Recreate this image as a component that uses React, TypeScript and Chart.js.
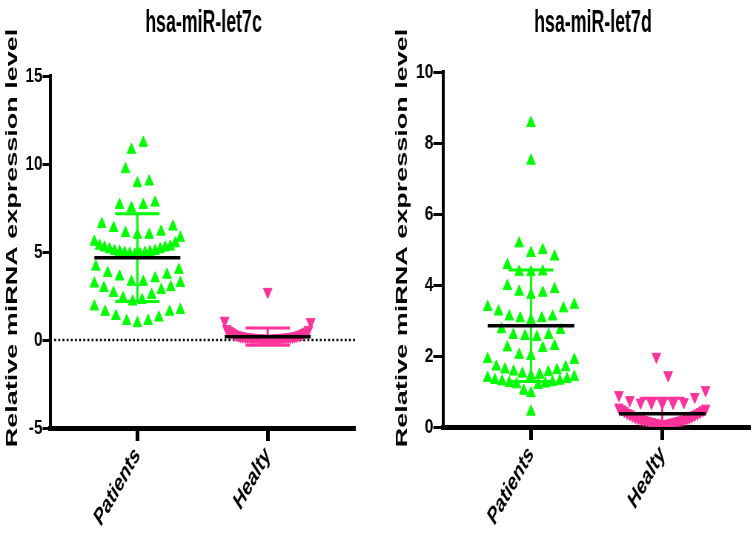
import React, { useEffect, useRef } from 'react';
import { Chart, registerables } from 'chart.js';

Chart.register(...registerables);

// ---------- data ----------
const CATEGORIES = ['Patients', 'Healty'];
const Y_TITLE = 'Relative miRNA expression level';

const LET7C_TITLE = 'hsa-miR-let7c';
const LET7C_PATIENTS = [
  11.2, 10.8, 9.7, 9.0, 8.9, 7.8, 7.67, 7.5, 7.67,
  6.44, 5.97, 6.15, 6.08, 5.97, 6.36, 6.59, 5.8,
  5.49, 5.3, 5.58, 5.35,
  5.25, 5.15, 5.05, 5.0, 4.95, 4.9, 4.85, 4.9, 4.95, 5.0, 5.05, 5.15, 5.25,
  3.98, 3.3, 3.2, 3.0, 3.7, 2.84, 2.56, 3.5, 3.6, 3.8, 4.16, 3.24, 3.3, 2.95, 2.67, 2.38, 2.27, 2.18,
  1.9, 1.6, 1.36, 1.08, 0.95, 1.08, 1.27, 1.6, 1.7,
];
const LET7C_HEALTHY = [
  2.74, 1.1, 1.02, 0.62, 0.58, 0.52, 0.48, 0.44, 0.4, 0.36, 0.33, 0.3,
  0.28, 0.26, 0.24, 0.22, 0.21, 0.2, 0.19, 0.18, 0.17, 0.16,
  0.15, 0.15, 0.14, 0.13, 0.13, 0.12, 0.12, 0.11, 0.11, 0.1, 0.1, 0.09, 0.09, 0.08, 0.08, 0.07, 0.07, 0.06,
];
const LET7C_MEAN = [4.68, 0.19];
const LET7C_SD = [2.49, 0.49];
const LET7C_Y = { min: -5, max: 15, step: 5 };

const LET7D_TITLE = 'hsa-miR-let7d';
const LET7D_PATIENTS = [
  8.56, 7.5, 5.17, 4.98, 4.9, 4.8, 4.56, 4.38, 4.37, 4.36,
  3.97, 3.88, 3.81, 3.78, 3.72, 3.44, 3.38, 3.34, 3.25,
  3.11, 3.11, 3.06, 3.06, 3.01, 2.75, 2.73, 2.59, 2.59, 2.56, 2.53,
  2.28, 2.24, 2.22, 2.03, 2.0, 1.91, 1.89,
  1.7, 1.68, 1.62, 1.6, 1.56, 1.54, 1.5, 1.47, 1.44, 1.41, 1.38, 1.35, 1.32, 1.3, 1.28, 1.26, 1.24, 1.22, 1.2, 1.18,
  1.02, 0.95, 0.43,
];
const LET7D_HEALTHY = [
  1.98, 1.46, 1.04, 0.9, 0.85, 0.76, 0.7, 0.69, 0.68, 0.68, 0.67,
  0.55, 0.52, 0.5, 0.47, 0.45, 0.42, 0.4, 0.38, 0.36, 0.34, 0.32, 0.3, 0.28, 0.26, 0.25, 0.24,
  0.22, 0.21, 0.2, 0.19, 0.18, 0.17, 0.16, 0.15, 0.14, 0.13, 0.12, 0.11, 0.1, 0.09, 0.08, 0.07, 0.06,
];
const LET7D_MEAN = [2.85, 0.37];
const LET7D_SD = [1.57, 0.44];
const LET7D_Y = { min: 0, max: 10, step: 2 };

// ---------- styling / layout ----------
const GREEN = '#00ff00';
const PINK = '#ff3399';
const FONT = "'Liberation Sans', Arial, Helvetica, sans-serif";
const CANVAS_W = 510; // internal width, shown squeezed to 378 css px
const CANVAS_H = 540;
const X_MIN = 0.33;
const X_MAX = 2.67;
const HALF_MEAN = 0.33;
const HALF_CAP = 0.17;
const SWARM_HALF = 0.33;

Chart.defaults.font.family = FONT;

// Prism-like scatter layout: values are grouped into horizontal rows, each row
// spread from the centre outwards (lowest values in the middle).
function swarm(values: number[], center: number, pxX: number, pxY: number, binPx: number): number[] {
  const GAP = 16; // preferred horizontal spacing in px
  const maxHalf = SWARM_HALF * pxX;
  const order = values.map((_, i) => i).sort((a, b) => values[a] - values[b]);
  const out: number[] = new Array(values.length).fill(center);
  const rows: number[][] = [];
  let cur: number[] = [];
  let start = 0;
  for (const i of order) {
    if (cur.length && (values[i] - start) * pxY >= binPx) { rows.push(cur); cur = []; }
    if (!cur.length) start = values[i];
    cur.push(i);
  }
  if (cur.length) rows.push(cur);
  let sign = 1;
  for (const row of rows) {
    const n = row.length;
    const gap = n > 1 ? Math.min(GAP, (2 * maxHalf) / (n - 1)) : GAP;
    row.forEach((idx, k) => {
      let slot: number;
      if (n % 2 === 1) {
        const m = Math.ceil(k / 2);
        slot = k === 0 ? 0 : (k % 2 === 1 ? sign : -sign) * m;
      } else {
        const m = Math.floor(k / 2) + 0.5;
        slot = (k % 2 === 0 ? sign : -sign) * m;
      }
      out[idx] = center + (slot * gap) / pxX;
    });
    sign = -sign;
  }
  return out;
}

function sdBar(c: number, mean: number, sd: number) {
  const hi = mean + sd;
  const lo = mean - sd;
  return [
    { x: c - HALF_CAP, y: hi }, { x: c + HALF_CAP, y: hi }, { x: c, y: null },
    { x: c, y: hi }, { x: c, y: lo }, { x: c, y: null },
    { x: c - HALF_CAP, y: lo }, { x: c + HALF_CAP, y: lo },
  ];
}

interface PanelCfg {
  title: string;
  patients: number[];
  healthy: number[];
  mean: number[];
  sd: number[];
  y: { min: number; max: number; step: number };
  padLeft: number;
  axisW: number;
  padRight: number;
  top: number;
  bottom: number;
  yTick: number;
  zeroLine: boolean;
  titleX: number;
  yTitleX: number;
  rowPx: number;
  healthyRow: number;
}

// draws the panel title and the rotated y-axis title (condensed like the reference)
function makeTextPlugin(p: PanelCfg) {
  return {
    id: 'panelText',
    afterDraw(chart: any) {
      const ctx = chart.ctx as CanvasRenderingContext2D;
      ctx.save();
      ctx.fillStyle = '#000';
      ctx.font = `bold 32px ${FONT}`;
      ctx.textAlign = 'center';
      ctx.textBaseline = 'alphabetic';
      ctx.translate(p.titleX, 32);
      ctx.scale(0.75, 1);
      ctx.fillText(p.title, 0, 0);
      ctx.restore();

      ctx.save();
      ctx.fillStyle = '#000';
      ctx.font = `bold 27px ${FONT}`;
      ctx.textAlign = 'center';
      ctx.textBaseline = 'middle';
      ctx.translate(p.yTitleX, 238);
      ctx.rotate(-Math.PI / 2);
      ctx.scale(1, 0.82);
      ctx.fillText(Y_TITLE, 0, 0);
      ctx.restore();
    },
  };
}

function buildConfig(p: PanelCfg): any {
  const pxX = (CANVAS_W - p.padLeft - p.axisW - p.padRight) / (X_MAX - X_MIN);
  const pxY = (p.bottom - p.top) / (p.y.max - p.y.min);
  const px = swarm(p.patients, 1, pxX, pxY, p.rowPx);
  const hx = swarm(p.healthy, 2, pxX, pxY, p.healthyRow * pxY);
  const datasets: any[] = [
    {
      label: 'mean',
      data: [
        { x: 1 - HALF_MEAN, y: p.mean[0] }, { x: 1 + HALF_MEAN, y: p.mean[0] }, { x: 1.5, y: null },
        { x: 2 - HALF_MEAN, y: p.mean[1] }, { x: 2 + HALF_MEAN, y: p.mean[1] },
      ],
      showLine: true, borderColor: '#000', borderWidth: 3.5, pointRadius: 0, order: 0,
    },
    { label: 'sd-p', data: sdBar(1, p.mean[0], p.sd[0]), showLine: true, borderColor: GREEN, borderWidth: 3, pointRadius: 0, order: 1 },
    { label: 'sd-h', data: sdBar(2, p.mean[1], p.sd[1]), showLine: true, borderColor: PINK, borderWidth: 3, pointRadius: 0, order: 1 },
    {
      label: CATEGORIES[0],
      data: p.patients.map((v, i) => ({ x: px[i], y: v })),
      pointStyle: 'triangle', pointRadius: 6.8, backgroundColor: GREEN, borderColor: GREEN, borderWidth: 1, order: 2,
    },
    {
      label: CATEGORIES[1],
      data: p.healthy.map((v, i) => ({ x: hx[i], y: v })),
      pointStyle: 'triangle', pointRotation: 180, pointRadius: 6.8, backgroundColor: PINK, borderColor: PINK, borderWidth: 1, order: 2,
    },
  ];
  if (p.zeroLine) {
    datasets.push({
      label: 'zero',
      data: [{ x: X_MIN, y: 0 }, { x: X_MAX, y: 0 }],
      showLine: true, borderColor: '#000', borderWidth: 2.5, borderDash: [2.6, 3], pointRadius: 0, order: 3,
    });
  }
  return {
    type: 'scatter',
    data: { datasets },
    plugins: [makeTextPlugin(p)],
    options: {
      responsive: false,
      maintainAspectRatio: false,
      devicePixelRatio: 1,
      animation: false,
      events: [],
      layout: { padding: { left: p.padLeft, right: p.padRight, top: p.top, bottom: 0 } },
      plugins: {
        legend: { display: false },
        tooltip: { enabled: false },
        title: { display: false },
      },
      scales: {
        x: {
          type: 'linear',
          min: X_MIN,
          max: X_MAX,
          afterBuildTicks: (s: any) => { s.ticks = [{ value: 1 }, { value: 2 }]; },
          afterFit: (s: any) => { s.height = CANVAS_H - p.bottom; },
          ticks: {
            autoSkip: false,
            minRotation: 53,
            maxRotation: 53,
            padding: 2,
            color: '#000',
            font: { size: 23, weight: 'bold', style: 'italic' },
            callback: (v: number) => CATEGORIES[Math.round(v) - 1] ?? '',
          },
          grid: { drawOnChartArea: false, drawTicks: true, tickLength: 13, tickWidth: 5, tickColor: '#000' },
          border: { display: true, color: '#000', width: 5 },
        },
        y: {
          type: 'linear',
          min: p.y.min,
          max: p.y.max,
          afterFit: (s: any) => { s.width = p.axisW; },
          ticks: { stepSize: p.y.step, padding: 0, color: '#000', font: { size: 21, weight: 'bold' } },
          grid: { drawOnChartArea: false, drawTicks: true, tickLength: p.yTick, tickWidth: 3, tickColor: '#000' },
          border: { display: true, color: '#000', width: 4 },
          title: { display: false },
        },
      },
    },
  };
}

const LEFT_PANEL: PanelCfg = {
  title: LET7C_TITLE, patients: LET7C_PATIENTS, healthy: LET7C_HEALTHY, mean: LET7C_MEAN, sd: LET7C_SD, y: LET7C_Y,
  padLeft: 0, axisW: 67.5, padRight: 31, top: 76, bottom: 428, yTick: 10, zeroLine: true,
  titleX: 274.6, yTitleX: 16.9, rowPx: 19, healthyRow: 1.1,
};
const RIGHT_PANEL: PanelCfg = {
  title: LET7D_TITLE, patients: LET7D_PATIENTS, healthy: LET7D_HEALTHY, mean: LET7D_MEAN, sd: LET7D_SD, y: LET7D_Y,
  padLeft: 16, axisW: 71.7, padRight: 5.3, top: 72, bottom: 427, yTick: 13, zeroLine: false,
  titleX: 290, yTitleX: 32.7, rowPx: 17, healthyRow: 0.55,
};

export default function App() {
  const leftRef = useRef<HTMLCanvasElement | null>(null);
  const rightRef = useRef<HTMLCanvasElement | null>(null);
  useEffect(() => {
    const c1 = new Chart(leftRef.current as HTMLCanvasElement, buildConfig(LEFT_PANEL));
    const c2 = new Chart(rightRef.current as HTMLCanvasElement, buildConfig(RIGHT_PANEL));
    return () => { c1.destroy(); c2.destroy(); };
  }, []);
  const canvasStyle = (left: number): React.CSSProperties => ({
    position: 'absolute', left, top: 0, width: '378px', height: '540px', display: 'block',
  });
  return (
    <div style={{ position: 'fixed', left: 0, top: 0, width: 756, height: 540, background: '#fff', overflow: 'hidden' }}>
      <canvas ref={leftRef} width={CANVAS_W} height={CANVAS_H} style={canvasStyle(0)} />
      <canvas ref={rightRef} width={CANVAS_W} height={CANVAS_H} style={canvasStyle(378)} />
    </div>
  );
}
